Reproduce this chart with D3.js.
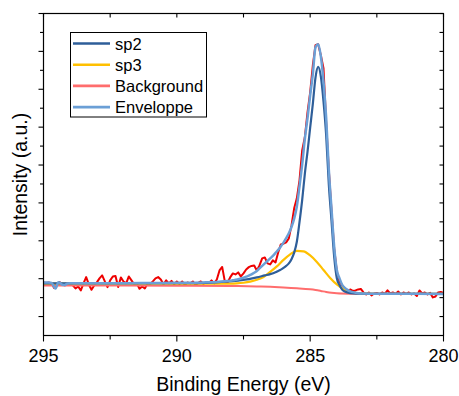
<!DOCTYPE html>
<html>
<head>
<meta charset="utf-8">
<script src="https://cdn.jsdelivr.net/npm/d3@7"></script>
<style>
  body { margin: 0; background: #fff; }
  svg { font-family: Arial, "Liberation Sans", sans-serif; }
</style>
</head>
<body>
<div id="chart"></div>
<script>
// C 1s spectrum, raw counts every 0.1 eV from 295 down to 280 eV
const rawStart = 295, rawStep = 0.1;
const rawCounts = [
  901, 888, 901, 875, 756, 848, 914, 848, 822, 875,
  861, 822, 742, 795, 690, 875, 1041, 848, 708, 822,
  901, 1007, 1086, 927, 777, 954, 1059, 1073, 782, 1033,
  927, 875, 1059, 954, 848, 875, 734, 795, 742, 875,
  861, 927, 1007, 1041, 980, 848, 954, 875, 941, 848,
  927, 861, 927, 835, 901, 875, 927, 835, 888, 927,
  861, 901, 888, 954, 875, 980, 1218, 1310, 927, 901,
  1033, 1139, 1112, 1165, 1059, 1139, 1244, 1305, 1337, 1350,
  1218, 1350, 1535, 1561, 1403, 1376, 1482, 1429, 1694, 1905,
  1923, 1958, 2063, 2407, 2856, 3120, 3596, 4388, 4732, 5392,
  5921, 6634, 7162, 7189, 6898, 6555, 5128, 3860, 2803, 1799,
  1192, 927, 822, 742, 663, 716, 676, 690, 716, 729,
  637, 584, 637, 557, 610, 624, 584, 637, 597, 690,
  610, 637, 597, 663, 584, 637, 597, 637, 584, 610,
  544, 690, 610, 637, 584, 624, 505, 531, 637, 650,
  624
];

// sp2 component
const sp2BE = [295, 289.7, 288.7, 288.2, 287.7, 287.3, 287, 286.7, 286.5, 286.3,
  286.2, 286.1, 286, 285.9, 285.8, 285.7, 285.6, 285.5, 285.4, 285.3, 285.2, 285.1,
  285, 284.9, 284.8, 284.7, 284.6, 284.5, 284.4, 284.3, 284.2, 284.1, 284, 283.9,
  283.8, 283.7, 283.5, 283, 280];
const sp2Counts = [876, 880, 898, 919, 951, 988, 1033, 1086, 1120, 1170,
  1205, 1239, 1284, 1337, 1403, 1514, 1686, 1974, 2491, 3073, 3767, 4349,
  4985, 5617, 6309, 6589, 6341, 5680, 4787, 3482, 2531, 1580, 1012, 832,
  711, 661, 621, 602, 597];

// sp3 component
const sp3BE = [295, 289, 288.5, 288, 287.75, 287.5, 287.25, 287, 286.75, 286.5,
  286.25, 286, 285.75, 285.5, 285.25, 285, 284.75, 284.5, 284.25, 284,
  283.75, 283.5, 283.25, 283, 282.5, 280];
const sp3Counts = [872, 872, 872, 872, 877, 893, 922, 972, 1046, 1178,
  1324, 1495, 1641, 1733, 1720, 1614, 1443, 1231, 1020, 848,
  729, 655, 618, 605, 602, 597];

// Shirley background
const bgBE = [295, 290, 288, 287, 286.5, 286, 285.5, 285, 284.8, 284.6, 284.4, 284.2, 284, 283.5, 283, 280];
const bgCounts = [822, 814, 806, 795, 785, 769, 748, 719, 700, 676, 650, 629, 616, 605, 602, 597];

// envelope (sum of fit)
const envBE = [295, 294.8, 294.7, 294.6, 294.55, 294.5, 294.45, 294.4, 294.3, 294.2, 294.1, 294,
  292, 291, 290, 289, 288.5, 288.2,
  288, 287.9, 287.8, 287.7, 287.6, 287.5, 287.4, 287.3, 287.2, 287.1,
  287, 286.9, 286.8, 286.7, 286.6, 286.5, 286.4, 286.3, 286.2, 286.1,
  286, 285.9, 285.8, 285.7, 285.6, 285.5, 285.4, 285.3, 285.2, 285.1,
  285, 284.9, 284.8, 284.7, 284.6, 284.5, 284.4, 284.3, 284.2, 284.1,
  284, 283.9, 283.8, 283.7, 283.6, 283.5, 283.4, 283.3, 283.2,
  283, 282.5, 281, 280];
const envCounts = [901, 901, 888, 782, 742, 808, 906, 901, 840, 832, 875, 877,
  880, 885, 890, 901, 914, 930,
  946, 956, 970, 985, 1004, 1025, 1052, 1081, 1115, 1157,
  1205, 1271, 1337, 1403, 1469, 1535, 1601, 1680, 1760, 1852,
  1952, 2069, 2198, 2365, 2584, 2906, 3437, 4013, 4687, 5231,
  5834, 6399, 7110, 7189, 6872, 6211, 5250, 3876, 2851, 1849,
  1229, 1007, 840, 756, 705, 666, 645, 629, 618,
  608, 602, 600, 597];

const xMajor = [295, 290, 285, 280];
const xMinor = [292.5, 287.5, 282.5];
const yMajor = [0, 1000, 2000, 3000, 4000, 5000, 6000, 7000, 8000];
const yMinor = [500, 1500, 2500, 3500, 4500, 5500, 6500, 7500];

const series = [
  { name: "sp2", color: "#2e5e99", width: 2.2 },
  { name: "sp3", color: "#ffc000", width: 2.2 },
  { name: "Background", color: "#ff6d6d", width: 2 },
  { name: "Enveloppe", color: "#6b9fd6", width: 2.5 }
];

const width = 459, height = 396;
const margin = { top: 13.5, right: 15.5, bottom: 60.5, left: 43.5 };

const svg = d3.select("#chart").append("svg")
  .attr("width", width)
  .attr("height", height);

const x = d3.scaleLinear().domain([295, 280]).range([margin.left, width - margin.right]);
const y = d3.scaleLinear().domain([-500, 8000]).range([height - margin.bottom, margin.top]);

svg.append("clipPath").attr("id", "plot")
  .append("rect")
  .attr("x", x(295)).attr("y", y(8000))
  .attr("width", x(280) - x(295)).attr("height", y(-500) - y(8000));

const zip = (xs, ys) => xs.map((b, i) => [b, ys[i]]);
const rawData = rawCounts.map((c, i) => [rawStart - i * rawStep, c]);

const lineRaw = d3.line().x(d => x(d[0])).y(d => y(d[1]));
const lineFit = d3.line().x(d => x(d[0])).y(d => y(d[1])).curve(d3.curveMonotoneX);

const g = svg.append("g").attr("clip-path", "url(#plot)");

g.append("path").datum(rawData)
  .attr("d", lineRaw).attr("fill", "none")
  .attr("stroke", "#ee0000").attr("stroke-width", 2).attr("stroke-linejoin", "round");

const curves = [
  { data: zip(bgBE, bgCounts), s: series[2] },
  { data: zip(sp3BE, sp3Counts), s: series[1] },
  { data: zip(sp2BE, sp2Counts), s: series[0] },
  { data: zip(envBE, envCounts), s: series[3] }
];
curves.forEach(c => {
  g.append("path").datum(c.data)
    .attr("d", lineFit).attr("fill", "none")
    .attr("stroke", c.s.color).attr("stroke-width", c.s.width)
    .attr("stroke-linejoin", "round");
});

// frame
svg.append("rect")
  .attr("x", x(295)).attr("y", y(8000))
  .attr("width", x(280) - x(295)).attr("height", y(-500) - y(8000))
  .attr("fill", "none").attr("stroke", "#000").attr("stroke-width", 1.2);

// ticks
const tick = (sel) => sel.attr("stroke", "#000").attr("stroke-width", 1.1);
const yb = y(-500), yt = y(8000), xl = x(295), xr = x(280);

xMajor.forEach(v => {
  tick(svg.append("line").attr("x1", x(v)).attr("x2", x(v)).attr("y1", yb).attr("y2", yb + 6));
  tick(svg.append("line").attr("x1", x(v)).attr("x2", x(v)).attr("y1", yt).attr("y2", yt + 4));
});
xMinor.forEach(v => {
  tick(svg.append("line").attr("x1", x(v)).attr("x2", x(v)).attr("y1", yb).attr("y2", yb + 4));
  tick(svg.append("line").attr("x1", x(v)).attr("x2", x(v)).attr("y1", yt).attr("y2", yt + 4));
});
yMajor.forEach(v => {
  tick(svg.append("line").attr("x1", xl - 5).attr("x2", xl).attr("y1", y(v)).attr("y2", y(v)));
  tick(svg.append("line").attr("x1", xr - 4).attr("x2", xr).attr("y1", y(v)).attr("y2", y(v)));
});
yMinor.forEach(v => {
  tick(svg.append("line").attr("x1", xl - 3.5).attr("x2", xl).attr("y1", y(v)).attr("y2", y(v)));
  tick(svg.append("line").attr("x1", xr - 4).attr("x2", xr).attr("y1", y(v)).attr("y2", y(v)));
});

svg.append("g").selectAll("text")
  .data(xMajor).enter().append("text")
  .attr("x", d => x(d)).attr("y", 362)
  .attr("text-anchor", "middle")
  .attr("font-size", 18)
  .text(d => d);

svg.append("text")
  .attr("x", (xl + xr) / 2).attr("y", 391)
  .attr("text-anchor", "middle").attr("font-size", 19.5)
  .text("Binding Energy (eV)");

svg.append("text")
  .attr("transform", `translate(27, ${(yb + yt) / 2}) rotate(-90)`)
  .attr("text-anchor", "middle").attr("font-size", 19.5)
  .text("Intensity (a.u.)");

// legend
const legend = svg.append("g");
legend.append("rect")
  .attr("x", 70.5).attr("y", 32.5).attr("width", 136).attr("height", 84.5)
  .attr("fill", "#fff").attr("stroke", "#000").attr("stroke-width", 1);
series.forEach((s, i) => {
  const cy = 43.5 + i * 21.2;
  legend.append("line")
    .attr("x1", 73).attr("x2", 110).attr("y1", cy).attr("y2", cy)
    .attr("stroke", s.color).attr("stroke-width", 2.6);
  legend.append("text")
    .attr("x", 115).attr("y", cy + 6)
    .attr("font-size", 16.5)
    .text(s.name);
});
</script>
</body>
</html>
